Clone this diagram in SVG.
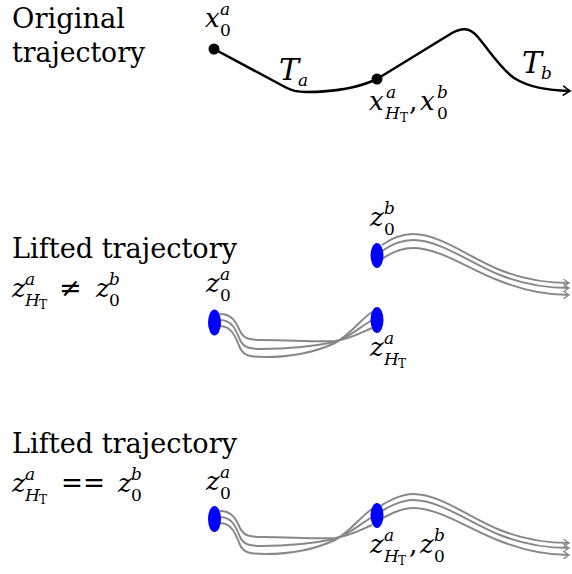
<svg xmlns="http://www.w3.org/2000/svg" width="572" height="574" viewBox="0 0 572 574" font-family="'DejaVu Serif', 'Liberation Serif', serif">
<defs>
<marker id="arrBlack" markerUnits="userSpaceOnUse" markerWidth="14" markerHeight="14" viewBox="-8 -7 10 14" refX="0" refY="0" orient="auto" overflow="visible">
<path d="M-6.5,-4.5 Q-2,-1 0,0 Q-2,1 -6.5,4.5" fill="none" stroke="#000" stroke-width="1.6" stroke-linecap="round"/>
</marker>
<marker id="arrGray" markerUnits="userSpaceOnUse" markerWidth="12" markerHeight="12" viewBox="-7 -6 9 12" refX="0" refY="0" orient="auto" overflow="visible">
<path d="M-5,-3.5 Q-1.5,-0.8 0,0 Q-1.5,0.8 -5,3.5" fill="none" stroke="#888" stroke-width="1.4" stroke-linecap="round"/>
</marker>
</defs>
<style>
text{fill:#000}
.txt{font-size:27px}
.mi{font-style:italic;font-size:26px}
.cal{font-style:italic;font-size:30px}
.si{font-style:italic;font-size:17px}
.su{font-size:17px}
.ss{font-size:12px}
.op{font-size:27px}
.blk{fill:none;stroke:#000;stroke-width:2.5;stroke-linejoin:round}
.gry{fill:none;stroke:#888;stroke-width:2}
.dot{fill:#000}
.blue{fill:#0000ff}
</style>

<g id="connectors">
  <path class="blk" d="M214,49 L285,87 C292,91 297,92 306,92 C332,92 356,89 377,79 L452,33 C461,28 469,27 477,36 C489,50 500,68 514,78 C530,88 548,90 570,91" marker-end="url(#arrBlack)"/>
  <g id="lifted-a-left">
    <path class="gry" d="M220,314 C232,314 236,322 240,331 C244,339 250,340 262,340 C290,340 315,342 335,341 C350,339 360,333 372,328"/>
    <path class="gry" d="M220,320 C232,320 236,330 240,340 C244,348 250,349 262,349 C290,349 315,346 335,342 C350,337 360,327 372,320"/>
    <path class="gry" d="M220,326 C232,326 236,338 240,348 C244,356 250,357 265,357 C295,357 320,350 335,343 C350,335 360,320 372,312"/>
  </g>
  <g id="lifted-a-right">
    <path class="gry" d="M382,245 C392,238 402,234 413,234 C440,234 470,258 500,270 C525,280 548,283 569,283" marker-end="url(#arrGray)"/>
    <path class="gry" d="M382,251 C392,244 402,240 413,240 C440,240 470,263 500,275 C525,285 548,288 569,288" marker-end="url(#arrGray)"/>
    <path class="gry" d="M382,259 C392,252 402,248 413,248 C440,248 470,270 500,281 C525,291 548,295 569,295" marker-end="url(#arrGray)"/>
  </g>
  <g id="lifted-b-left" transform="translate(0,197)">
    <path class="gry" d="M220,314 C232,314 236,322 240,331 C244,339 250,340 262,340 C290,340 315,342 335,341 C350,339 360,333 372,328"/>
    <path class="gry" d="M220,320 C232,320 236,330 240,340 C244,348 250,349 262,349 C290,349 315,346 335,342 C350,337 360,327 372,320"/>
    <path class="gry" d="M220,326 C232,326 236,338 240,348 C244,356 250,357 265,357 C295,357 320,350 335,343 C350,335 360,320 372,312"/>
  </g>
  <g id="lifted-b-right" transform="translate(0,260)">
    <path class="gry" d="M375,250 C386,241 402,234 413,234 C440,234 470,258 500,270 C525,280 548,283 569,283" marker-end="url(#arrGray)"/>
    <path class="gry" d="M375,256 C386,247 402,240 413,240 C440,240 470,263 500,275 C525,285 548,288 569,288" marker-end="url(#arrGray)"/>
    <path class="gry" d="M375,263 C386,255 402,248 413,248 C440,248 470,270 500,281 C525,291 548,295 569,295" marker-end="url(#arrGray)"/>
  </g>
</g>

<g id="title-original">
  <text class="txt" x="12" y="28" textLength="113" lengthAdjust="spacingAndGlyphs">Original</text>
  <text class="txt" x="12" y="62" textLength="133" lengthAdjust="spacingAndGlyphs">trajectory</text>
</g>

<g id="node-x0a">
  <circle class="dot" cx="214" cy="49" r="5.5"/>
  <text class="mi" x="205" y="27">x</text>
  <text class="si" x="220" y="15">a</text>
  <text class="su" x="220" y="36">0</text>
</g>

<g id="label-Ta">
  <text class="cal" x="279" y="80">T</text>
  <text class="si" x="298" y="86">a</text>
</g>

<g id="node-xH">
  <circle class="dot" cx="377" cy="79" r="5.5"/>
  <text class="mi" x="369" y="110">x</text>
  <text class="si" x="386" y="98">a</text>
  <text class="si" x="385" y="119">H</text>
  <text class="ss" x="400" y="122">T</text>
  <text class="op" x="409" y="110">,</text>
  <text class="mi" x="420" y="110">x</text>
  <text class="si" x="437" y="98">b</text>
  <text class="su" x="437" y="119">0</text>
</g>

<g id="label-Tb">
  <text class="cal" x="522" y="73">T</text>
  <text class="si" x="541" y="79">b</text>
</g>

<g id="title-lifted-1">
  <text class="txt" x="12" y="258" textLength="225" lengthAdjust="spacingAndGlyphs">Lifted trajectory</text>
  <text class="mi" x="12" y="297">z</text>
  <text class="si" x="25" y="285">a</text>
  <text class="si" x="25" y="306">H</text>
  <text class="ss" x="39" y="309">T</text>
  <text class="op" x="59" y="297">≠</text>
  <text class="mi" x="96" y="297">z</text>
  <text class="si" x="109" y="285">b</text>
  <text class="su" x="109" y="306">0</text>
</g>

<g id="node-z0a-1">
  <ellipse class="blue" cx="214.5" cy="322.5" rx="6.5" ry="13"/>
  <text class="mi" x="206" y="292">z</text>
  <text class="si" x="220" y="280">a</text>
  <text class="su" x="220" y="301">0</text>
</g>

<g id="node-z0b-1">
  <ellipse class="blue" cx="377" cy="255.5" rx="6.5" ry="12.5"/>
  <text class="mi" x="370" y="226">z</text>
  <text class="si" x="384" y="214">b</text>
  <text class="su" x="384" y="235">0</text>
</g>

<g id="node-zH-1">
  <ellipse class="blue" cx="377" cy="320" rx="6.5" ry="13"/>
  <text class="mi" x="370" y="356">z</text>
  <text class="si" x="384" y="344">a</text>
  <text class="si" x="384" y="365">H</text>
  <text class="ss" x="398" y="368">T</text>
</g>

<g id="title-lifted-2">
  <text class="txt" x="12" y="453" textLength="225" lengthAdjust="spacingAndGlyphs">Lifted trajectory</text>
  <text class="mi" x="12" y="492">z</text>
  <text class="si" x="25" y="480">a</text>
  <text class="si" x="25" y="501">H</text>
  <text class="ss" x="39" y="504">T</text>
  <text class="op" x="61" y="492" textLength="44" lengthAdjust="spacingAndGlyphs">==</text>
  <text class="mi" x="118" y="492">z</text>
  <text class="si" x="131" y="480">b</text>
  <text class="su" x="131" y="501">0</text>
</g>

<g id="node-z0a-2">
  <ellipse class="blue" cx="214.5" cy="519" rx="6.5" ry="13"/>
  <text class="mi" x="206" y="490">z</text>
  <text class="si" x="220" y="478">a</text>
  <text class="su" x="220" y="499">0</text>
</g>

<g id="node-zH-2">
  <ellipse class="blue" cx="377" cy="515.5" rx="6.5" ry="12.5"/>
  <text class="mi" x="370" y="553">z</text>
  <text class="si" x="384" y="541">a</text>
  <text class="si" x="384" y="562">H</text>
  <text class="ss" x="398" y="565">T</text>
  <text class="op" x="409" y="553">,</text>
  <text class="mi" x="420" y="553">z</text>
  <text class="si" x="434" y="541">b</text>
  <text class="su" x="434" y="562">0</text>
</g>
</svg>
